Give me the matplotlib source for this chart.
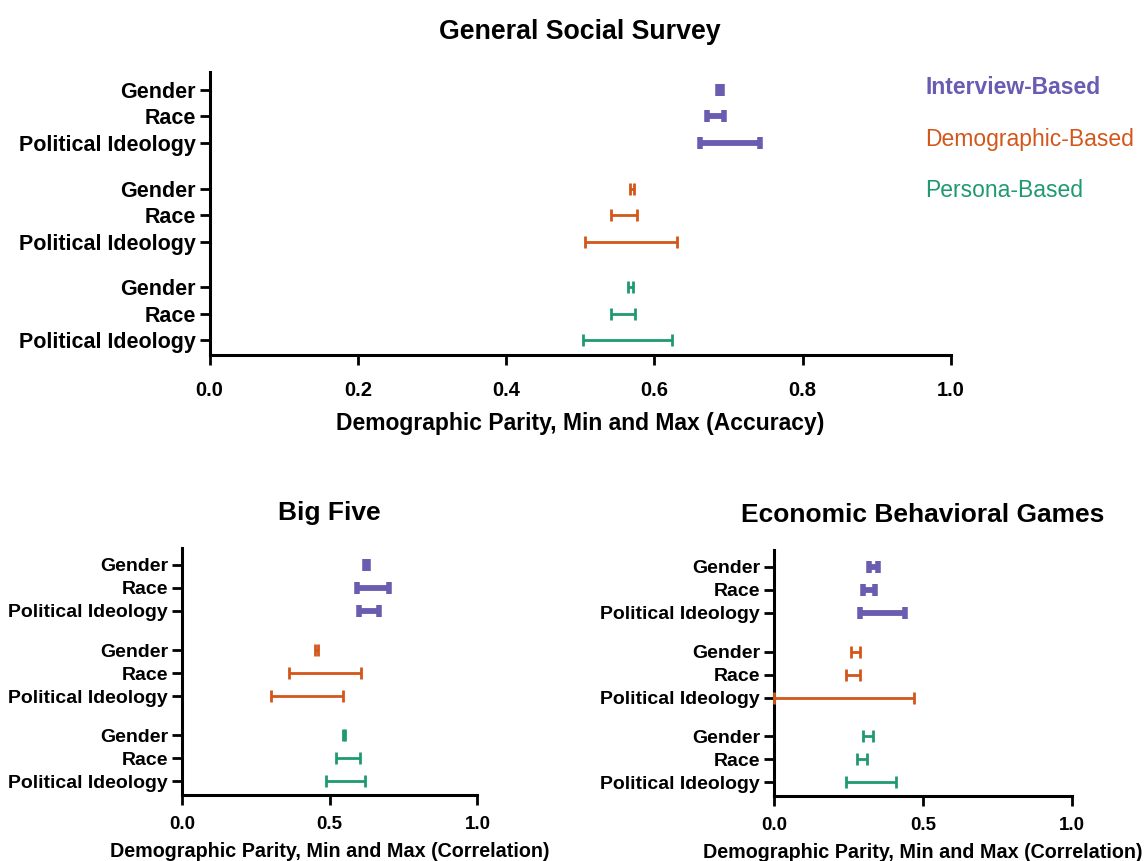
import matplotlib
matplotlib.use("Agg")
import matplotlib.pyplot as plt
import numpy as np

plt.rcParams['font.family'] = ['Liberation Sans', 'DejaVu Sans']

categories = ["Gender", "Race", "Political Ideology"]
methods = ["Interview-Based", "Demographic-Based", "Persona-Based"]
colors = ["#6a5cb0", "#d4561a", "#1f9a70"]

# (min, max) per method, per category
gss_min = [[0.686, 0.671, 0.662], [0.567, 0.541, 0.507], [0.564, 0.541, 0.504]]
gss_max = [[0.691, 0.694, 0.742], [0.573, 0.576, 0.631], [0.571, 0.574, 0.624]]

big5_min = [[0.620, 0.592, 0.600], [0.449, 0.363, 0.302], [0.545, 0.520, 0.487]]
big5_max = [[0.630, 0.700, 0.668], [0.462, 0.607, 0.546], [0.552, 0.603, 0.620]]

econ_min = [[0.320, 0.300, 0.290], [0.260, 0.240, 0.000], [0.300, 0.278, 0.240]]
econ_max = [[0.350, 0.340, 0.440], [0.290, 0.290, 0.470], [0.333, 0.313, 0.410]]

gss_xticks = [0.0, 0.2, 0.4, 0.6, 0.8, 1.0]
small_xticks = [0.0, 0.5, 1.0]

fig = plt.figure(figsize=(11.48, 8.61), dpi=100)


def draw(ax, mins, maxs, group_gap, ylim, xticks, xlabel, title,
         label_fs, tick_fs, xlabel_fs, title_fs, xpad, labelpad, tpad):
    yticks, ylabels = [], []
    for g in range(3):
        for i in range(3):
            y = g * group_gap + i
            lo, hi = mins[g][i], maxs[g][i]
            mid = (lo + hi) / 2
            half = (hi - lo) / 2
            if g == 0:
                lw, cs, ct = 4.2, 4.0, 4.0
            else:
                lw, cs, ct = 2.0, 4.0, 2.0
            ax.errorbar([mid], [y], xerr=[[half], [half]], fmt='none',
                        ecolor=colors[g], elinewidth=lw, capsize=cs,
                        capthick=ct, clip_on=False, zorder=3)
            yticks.append(y)
            ylabels.append(categories[i])
    ax.set_yticks(yticks)
    ax.set_yticklabels(ylabels, fontsize=label_fs, fontweight='bold')
    ax.set_ylim(*ylim)
    ax.set_xlim(0, 1)
    ax.set_xticks(xticks)
    ax.set_xticklabels(["{:.1f}".format(v) for v in xticks], fontsize=tick_fs,
                       fontweight='bold')
    ax.set_xlabel(xlabel, fontsize=xlabel_fs, fontweight='bold',
                  labelpad=labelpad)
    ax.set_title(title, fontsize=title_fs, fontweight='bold', pad=tpad)
    for s in ['top', 'right']:
        ax.spines[s].set_visible(False)
    for s in ['left', 'bottom']:
        ax.spines[s].set_linewidth(2.2)
    ax.tick_params(axis='both', width=2.0, length=7, direction='out')
    ax.tick_params(axis='x', pad=xpad)
    ax.tick_params(axis='y', pad=3)


ax1 = fig.add_axes([0.1825, 0.5877, 0.6459, 0.3287])
draw(ax1, gss_min, gss_max, 3.72, (10.0, -0.68), gss_xticks,
     "Demographic Parity, Min and Max (Accuracy)", "General Social Survey",
     15.5, 14.5, 16.5, 19.3, 11.5, 9, 24)

ax2 = fig.add_axes([0.1585, 0.0767, 0.2574, 0.2869])
draw(ax2, big5_min, big5_max, 3.7, (10.0, -0.74), small_xticks,
     "Demographic Parity, Min and Max (Correlation)", "Big Five",
     14, 13.5, 14.2, 19, 8, 6.5, 20)

ax3 = fig.add_axes([0.6742, 0.0755, 0.2596, 0.2857])
draw(ax3, econ_min, econ_max, 3.7, (10.0, -0.74), small_xticks,
     "Demographic Parity, Min and Max (Correlation)",
     "Economic Behavioral Games", 14, 13.5, 14.2, 19, 8, 6.5, 20)

leg_y = [0.8978, 0.8374, 0.7793]
for k in range(3):
    fig.text(0.806, leg_y[k], methods[k], color=colors[k], fontsize=16.5,
             fontweight='bold' if k == 0 else 'normal', va='center',
             ha='left')

fig.savefig("out.png", dpi=100)
